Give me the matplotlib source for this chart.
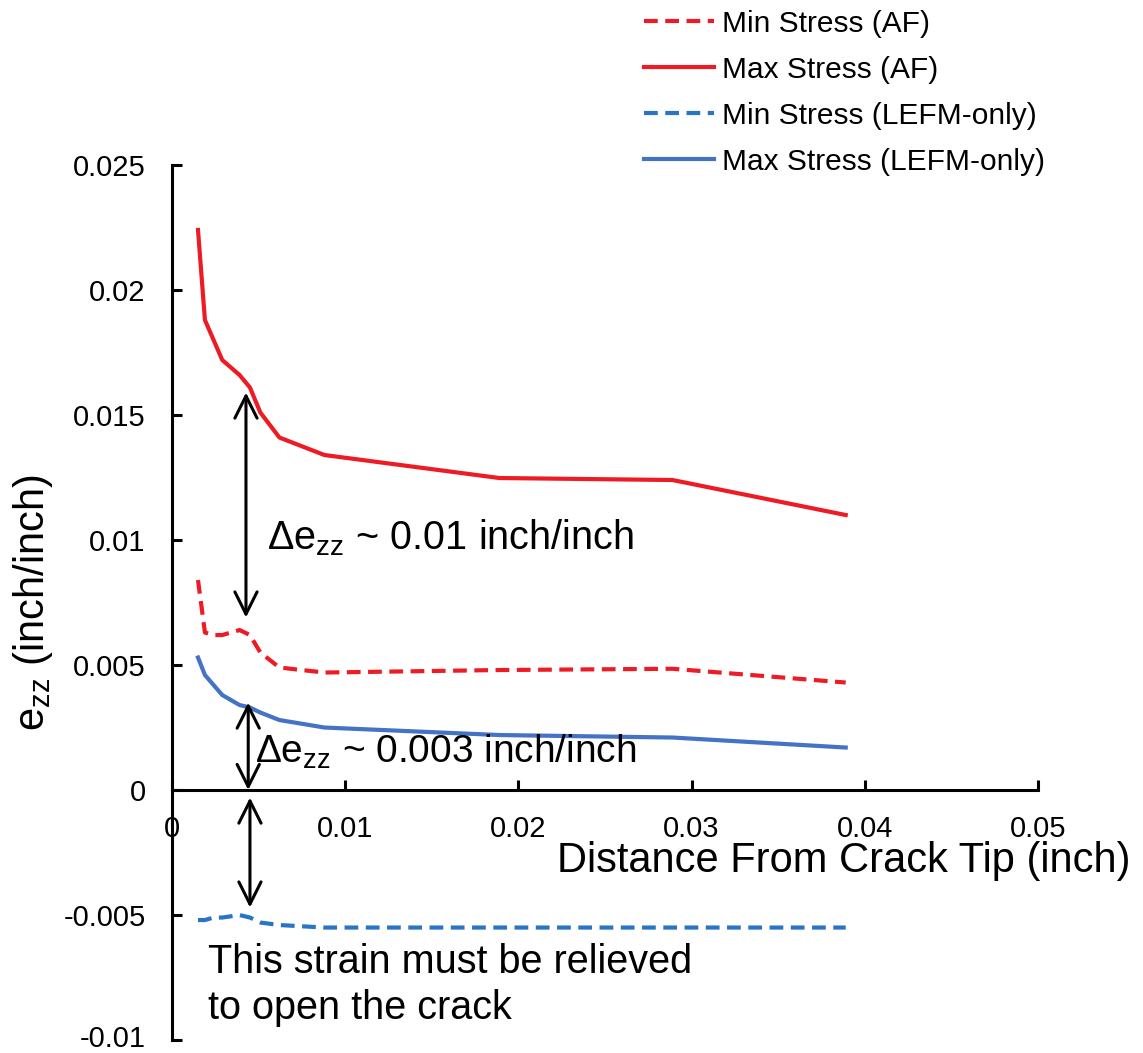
import matplotlib
matplotlib.use("Agg")
import matplotlib.pyplot as plt
import matplotlib.transforms as mtransforms

plt.rcParams["font.family"] = ["Liberation Sans", "DejaVu Sans"]
plt.rcParams["mathtext.fontset"] = "custom"
plt.rcParams["mathtext.rm"] = "Liberation Sans"
plt.rcParams["mathtext.it"] = "Liberation Sans:italic"

# Distance from crack tip (inch)
distancia = [0.0015, 0.0019, 0.0024, 0.0029, 0.0039, 0.0045, 0.0051, 0.0062, 0.0088, 0.0189, 0.0289, 0.0389]

max_af = [0.0224, 0.0188, 0.0180, 0.0172, 0.0166, 0.0161, 0.0151, 0.0141, 0.0134, 0.01248, 0.0124, 0.0110]
min_af = [0.0084, 0.0063, 0.0062, 0.0062, 0.0064, 0.0062, 0.0055, 0.0049, 0.0047, 0.0048, 0.00485, 0.0043]
max_lefm = [0.0053, 0.0046, 0.0042, 0.0038, 0.0034, 0.0033, 0.0031, 0.0028, 0.0025, 0.0022, 0.0021, 0.0017]
min_lefm = [-0.0052, -0.0052, -0.0051, -0.0051, -0.0050, -0.0051, -0.0053, -0.0054, -0.0055, -0.0055, -0.0055, -0.0055]

vermelho = "#ED1C24"
azul = "#4472C4"
azul_tr = "#2A74C6"

fig = plt.figure(figsize=(11.43, 10.53), dpi=100)
ax = fig.add_axes([0.1505, 0.0123, 0.7576, 0.8310])

l1, = ax.plot(distancia, min_af, color=vermelho, lw=3, dashes=(3.3, 1.8), label="Min Stress (AF)")
l2, = ax.plot(distancia, max_af, color=vermelho, lw=3, label="Max Stress (AF)")
l3, = ax.plot(distancia, min_lefm, color=azul_tr, lw=3, dashes=(3.3, 1.8), label="Min Stress (LEFM-only)")
l4, = ax.plot(distancia, max_lefm, color=azul, lw=3, label="Max Stress (LEFM-only)")

ax.set_xlim(0, 0.05)
ax.set_ylim(-0.01, 0.025)
ax.set_xticks([0, 0.01, 0.02, 0.03, 0.04, 0.05])
ax.set_xticklabels(["0", "0.01", "0.02", "0.03", "0.04", "0.05"])
ax.set_yticks([-0.01, -0.005, 0, 0.005, 0.01, 0.015, 0.02, 0.025])
ax.set_yticklabels(["-0.01", "-0.005", "0", "0.005", "0.01", "0.015", "0.02", "0.025"])

ax.spines["top"].set_visible(False)
ax.spines["right"].set_visible(False)
ax.spines["bottom"].set_position(("data", 0))
for s in ["left", "bottom"]:
    ax.spines[s].set_linewidth(2.2)
ax.tick_params(axis="both", direction="in", length=7, width=2.2, labelsize=21)
ax.tick_params(axis="y", pad=19)
ax.tick_params(axis="x", pad=18)

# subir um pouco o rótulo -0.01 para não cortar na borda
rot_baixo = ax.get_yticklabels()[0]
rot_baixo.set_transform(rot_baixo.get_transform() + mtransforms.ScaledTranslation(0, 4 / 100, fig.dpi_scale_trans))

fig.text(0.738, 1 - 861 / 1053, "Distance From Crack Tip (inch)", fontsize=30, ha="center", va="center")
fig.text(0.029, 1 - 603 / 1053, r"e$_{\mathrm{zz}}$ (inch/inch)", fontsize=30, rotation=90, ha="center", va="center")

# setas
seta = dict(arrowstyle="<->", color="black", lw=2.2, mutation_scale=40, shrinkA=0, shrinkB=0)
ax.annotate("", xy=(0.00427, 0.0159), xytext=(0.00427, 0.0069), arrowprops=seta)
ax.annotate("", xy=(0.0044, 0.0035), xytext=(0.0044, 0.0), arrowprops=seta)
ax.annotate("", xy=(0.0045, -0.0003), xytext=(0.0045, -0.0047), arrowprops=seta)

ax.text(0.0055, 0.0101, r"$\Delta$e$_{\mathrm{zz}}$ ~ 0.01 inch/inch", fontsize=28.5, va="center")
ax.text(0.0048, 0.00152, r"$\Delta$e$_{\mathrm{zz}}$ ~ 0.003 inch/inch", fontsize=28, va="center")
ax.text(0.0021, -0.0061, "This strain must be relieved\nto open the crack", fontsize=28.5, va="top", linespacing=1.28)

fig.legend(handles=[l1, l2, l3, l4], loc="upper left", bbox_to_anchor=(0.553, 1.002),
           frameon=False, fontsize=21.5, handlelength=2.35, handletextpad=0.25, labelspacing=0.6,
           borderaxespad=0)

fig.savefig("out.png", dpi=100)
